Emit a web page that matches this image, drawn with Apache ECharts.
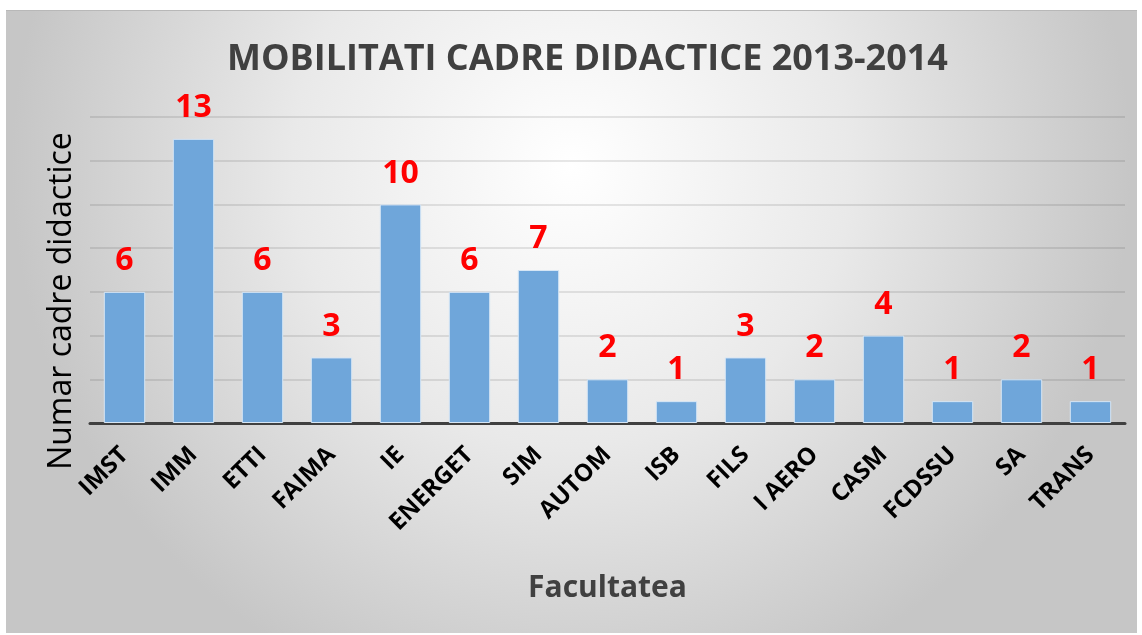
<!DOCTYPE html>
<html>
<head>
<meta charset="utf-8">
<script src="https://cdn.jsdelivr.net/npm/echarts@6/dist/echarts.min.js"></script>
<style>
  html, body { margin: 0; padding: 0; background: #ffffff; }
  #chart {
    position: absolute; left: 6px; top: 10px; width: 1131px; height: 622px;
    border-top: 1px solid #b8b8b8;
  }
</style>
</head>
<body>
<div id="chart"></div>
<script>
// Faculties and number of teaching staff mobilities
const categories = ['IMST', 'IMM', 'ETTI', 'FAIMA', 'IE', 'ENERGET', 'SIM', 'AUTOM', 'ISB', 'FILS', 'I AERO', 'CASM', 'FCDSSU', 'SA', 'TRANS'];
const mobilities = [6, 13, 6, 3, 10, 6, 7, 2, 1, 3, 2, 4, 1, 2, 1];

const chart = echarts.init(document.getElementById('chart'), null, { renderer: 'canvas' });

chart.setOption({
  backgroundColor: {
    type: 'radial', x: 0.5, y: 0.25, r: 0.9,
    colorStops: [
      { offset: 0, color: '#ffffff' },
      { offset: 0.5, color: '#e9e9e9' },
      { offset: 1, color: '#c6c6c6' }
    ]
  },
  animation: false,
  title: {
    text: 'MOBILITATI CADRE DIDACTICE 2013-2014',
    left: 216,
    top: 26,
    textStyle: { fontFamily: 'Open Sans', fontWeight: 'bold', fontSize: 36, color: '#404040' }
  },
  grid: { left: 84, right: 12, top: 106, bottom: 210 },
  xAxis: {
    type: 'category',
    data: categories,
    name: 'Facultatea',
    nameLocation: 'middle',
    nameGap: 150,
    nameTextStyle: { fontFamily: 'Open Sans', fontWeight: 'bold', fontSize: 30, color: '#404040' },
    axisLine: { lineStyle: { color: '#404040', width: 3 } },
    axisTick: { show: false },
    axisLabel: {
      rotate: 45, margin: 28, interval: 0,
      fontFamily: 'Open Sans', fontWeight: 'bold', fontSize: 24, color: '#000000'
    }
  },
  yAxis: {
    type: 'value',
    min: 0, max: 14, interval: 2,
    name: 'Numar cadre didactice',
    nameLocation: 'middle',
    nameRotate: 90,
    nameGap: 12,
    nameTextStyle: { fontFamily: 'Open Sans', fontSize: 32, color: '#000000', padding: [0, 62, 0, 0] },
    axisLine: { show: false },
    axisTick: { show: false },
    axisLabel: { show: false },
    splitLine: { lineStyle: { color: 'rgba(0,0,0,0.13)', width: 1.5 } }
  },
  series: [{
    type: 'bar',
    data: mobilities,
    barCategoryGap: '40%',
    itemStyle: { color: '#6fa6da', borderColor: '#d6e6f5', borderWidth: 1 },
    label: {
      show: true, position: 'top', distance: 15,
      fontFamily: 'Open Sans', fontWeight: 'bold', fontSize: 32, color: '#ff0000'
    }
  }]
});
</script>
</body>
</html>
